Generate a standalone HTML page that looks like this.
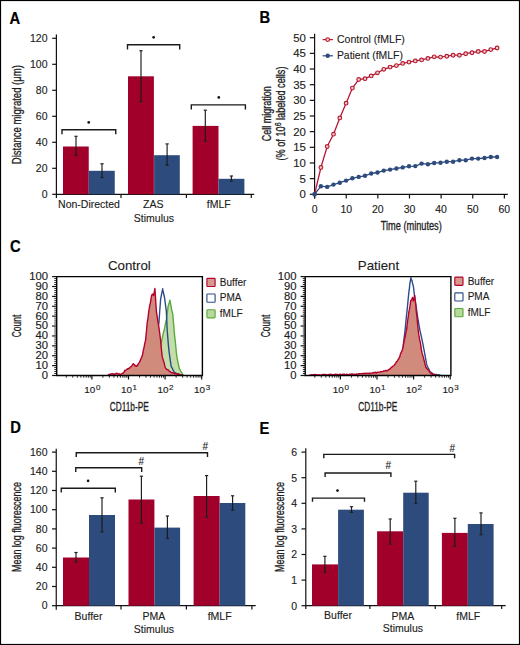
<!DOCTYPE html>
<html><head><meta charset="utf-8"><style>
html,body{margin:0;padding:0;background:#fff;}
svg{display:block;font-family:"Liberation Sans", sans-serif;}
text{stroke:#222;stroke-width:0.12px;}
</style></head><body>
<svg width="520" height="645" viewBox="0 0 520 645">
<rect x="0.5" y="0.5" width="519" height="644" fill="none" stroke="#000" stroke-width="1.2"/>
<text transform="translate(9.6,23.8) scale(0.9,1)" font-size="16.4" font-weight="bold" fill="#000" style="stroke:#000;stroke-width:0.2px">A</text>
<line x1="56.4" y1="34.5" x2="56.4" y2="198" stroke="#111" stroke-width="1.2"/>
<line x1="52.2" y1="194.3" x2="56.4" y2="194.3" stroke="#111" stroke-width="1.2"/>
<text x="47.5" y="198.0" font-size="10.5" text-anchor="end" font-weight="normal" fill="#1a1a1a" >0</text>
<line x1="52.2" y1="168.3" x2="56.4" y2="168.3" stroke="#111" stroke-width="1.2"/>
<text x="47.5" y="172.0" font-size="10.5" text-anchor="end" font-weight="normal" fill="#1a1a1a" >20</text>
<line x1="52.2" y1="142.3" x2="56.4" y2="142.3" stroke="#111" stroke-width="1.2"/>
<text x="47.5" y="146.0" font-size="10.5" text-anchor="end" font-weight="normal" fill="#1a1a1a" >40</text>
<line x1="52.2" y1="116.30000000000001" x2="56.4" y2="116.30000000000001" stroke="#111" stroke-width="1.2"/>
<text x="47.5" y="120.00000000000001" font-size="10.5" text-anchor="end" font-weight="normal" fill="#1a1a1a" >60</text>
<line x1="52.2" y1="90.30000000000001" x2="56.4" y2="90.30000000000001" stroke="#111" stroke-width="1.2"/>
<text x="47.5" y="94.00000000000001" font-size="10.5" text-anchor="end" font-weight="normal" fill="#1a1a1a" >80</text>
<line x1="52.2" y1="64.30000000000001" x2="56.4" y2="64.30000000000001" stroke="#111" stroke-width="1.2"/>
<text x="47.5" y="68.00000000000001" font-size="10.5" text-anchor="end" font-weight="normal" fill="#1a1a1a" >100</text>
<line x1="52.2" y1="38.30000000000001" x2="56.4" y2="38.30000000000001" stroke="#111" stroke-width="1.2"/>
<text x="47.5" y="42.000000000000014" font-size="10.5" text-anchor="end" font-weight="normal" fill="#1a1a1a" >120</text>
<line x1="56.4" y1="194.3" x2="254.2" y2="194.3" stroke="#111" stroke-width="1.2"/>
<line x1="121" y1="194.3" x2="121" y2="198" stroke="#111" stroke-width="1.2"/>
<line x1="186.4" y1="194.3" x2="186.4" y2="198" stroke="#111" stroke-width="1.2"/>
<line x1="251.3" y1="194.3" x2="251.3" y2="198" stroke="#111" stroke-width="1.2"/>
<rect x="63" y="146.5" width="25.75" height="47.80" fill="#a1002b"/>
<rect x="88.75" y="170.8" width="26.00" height="23.50" fill="#2d4b7c"/>
<rect x="128" y="76.3" width="25.90" height="118.00" fill="#a1002b"/>
<rect x="154.1" y="155.2" width="25.70" height="39.10" fill="#2d4b7c"/>
<rect x="192.6" y="125.9" width="25.90" height="68.40" fill="#a1002b"/>
<rect x="218.5" y="178.8" width="25.90" height="15.50" fill="#2d4b7c"/>
<line x1="76" y1="136.3" x2="76" y2="155.5" stroke="#1a1a1a" stroke-width="1.15"/>
<line x1="74.4" y1="136.3" x2="77.6" y2="136.3" stroke="#222" stroke-width="1.2"/>
<line x1="74.4" y1="155.5" x2="77.6" y2="155.5" stroke="#222" stroke-width="1.2"/>
<line x1="102" y1="163.8" x2="102" y2="177.5" stroke="#1a1a1a" stroke-width="1.15"/>
<line x1="100.4" y1="163.8" x2="103.6" y2="163.8" stroke="#222" stroke-width="1.2"/>
<line x1="100.4" y1="177.5" x2="103.6" y2="177.5" stroke="#222" stroke-width="1.2"/>
<line x1="141" y1="50.7" x2="141" y2="101.6" stroke="#1a1a1a" stroke-width="1.15"/>
<line x1="139.4" y1="50.7" x2="142.6" y2="50.7" stroke="#222" stroke-width="1.2"/>
<line x1="139.4" y1="101.6" x2="142.6" y2="101.6" stroke="#222" stroke-width="1.2"/>
<line x1="167.1" y1="143.9" x2="167.1" y2="165.3" stroke="#1a1a1a" stroke-width="1.15"/>
<line x1="165.5" y1="143.9" x2="168.7" y2="143.9" stroke="#222" stroke-width="1.2"/>
<line x1="165.5" y1="165.3" x2="168.7" y2="165.3" stroke="#222" stroke-width="1.2"/>
<line x1="205.3" y1="110.2" x2="205.3" y2="141" stroke="#1a1a1a" stroke-width="1.15"/>
<line x1="203.70000000000002" y1="110.2" x2="206.9" y2="110.2" stroke="#222" stroke-width="1.2"/>
<line x1="203.70000000000002" y1="141" x2="206.9" y2="141" stroke="#222" stroke-width="1.2"/>
<line x1="231.4" y1="176" x2="231.4" y2="181.1" stroke="#1a1a1a" stroke-width="1.15"/>
<line x1="229.8" y1="176" x2="233.0" y2="176" stroke="#222" stroke-width="1.2"/>
<line x1="229.8" y1="181.1" x2="233.0" y2="181.1" stroke="#222" stroke-width="1.2"/>
<path d="M62,134.25 V129.75 H115.75 V134.25" fill="none" stroke="#1a1a1a" stroke-width="1.4"/>
<circle cx="88.75" cy="122.4" r="1.35" fill="#111"/>
<path d="M127.5,49.4 V44.8 H179.7 V49.4" fill="none" stroke="#1a1a1a" stroke-width="1.4"/>
<circle cx="153.65" cy="37.3" r="1.35" fill="#111"/>
<path d="M191.3,109.5 V104.9 H245.4 V109.5" fill="none" stroke="#1a1a1a" stroke-width="1.4"/>
<circle cx="218.8" cy="97.4" r="1.35" fill="#111"/>
<text x="89" y="208" font-size="10.5" text-anchor="middle" font-weight="normal" fill="#1a1a1a" >Non-Directed</text>
<text x="153.3" y="208" font-size="10.5" text-anchor="middle" font-weight="normal" fill="#1a1a1a" >ZAS</text>
<text x="218.7" y="208" font-size="10.5" text-anchor="middle" font-weight="normal" fill="#1a1a1a" >fMLF</text>
<text x="154" y="221.5" font-size="10.5" text-anchor="middle" font-weight="normal" fill="#1a1a1a" >Stimulus</text>
<text transform="translate(21,114.7) rotate(-90)" x="0" y="0" font-size="12" text-anchor="middle" textLength="99" lengthAdjust="spacingAndGlyphs" fill="#1a1a1a" style="stroke-width:0.3px">Distance migrated (μm)</text>
<text transform="translate(259.5,22.8) scale(0.9,1)" font-size="16.4" font-weight="bold" fill="#000" style="stroke:#000;stroke-width:0.2px">B</text>
<line x1="314.6" y1="33.7" x2="314.6" y2="198.5" stroke="#111" stroke-width="1.2"/>
<line x1="309.8" y1="194.3" x2="314.6" y2="194.3" stroke="#111" stroke-width="1.2"/>
<text x="305.9" y="198.20" font-size="10.5" text-anchor="end" textLength="6.35" lengthAdjust="spacingAndGlyphs" fill="#1a1a1a">0</text>
<line x1="309.8" y1="178.64000000000001" x2="314.6" y2="178.64000000000001" stroke="#111" stroke-width="1.2"/>
<text x="305.9" y="182.54" font-size="10.5" text-anchor="end" textLength="6.35" lengthAdjust="spacingAndGlyphs" fill="#1a1a1a">5</text>
<line x1="309.8" y1="162.98000000000002" x2="314.6" y2="162.98000000000002" stroke="#111" stroke-width="1.2"/>
<text x="305.9" y="166.88" font-size="10.5" text-anchor="end" textLength="12.70" lengthAdjust="spacingAndGlyphs" fill="#1a1a1a">10</text>
<line x1="309.8" y1="147.32" x2="314.6" y2="147.32" stroke="#111" stroke-width="1.2"/>
<text x="305.9" y="151.22" font-size="10.5" text-anchor="end" textLength="12.70" lengthAdjust="spacingAndGlyphs" fill="#1a1a1a">15</text>
<line x1="309.8" y1="131.66000000000003" x2="314.6" y2="131.66000000000003" stroke="#111" stroke-width="1.2"/>
<text x="305.9" y="135.56" font-size="10.5" text-anchor="end" textLength="12.70" lengthAdjust="spacingAndGlyphs" fill="#1a1a1a">20</text>
<line x1="309.8" y1="116.00000000000001" x2="314.6" y2="116.00000000000001" stroke="#111" stroke-width="1.2"/>
<text x="305.9" y="119.90" font-size="10.5" text-anchor="end" textLength="12.70" lengthAdjust="spacingAndGlyphs" fill="#1a1a1a">25</text>
<line x1="309.8" y1="100.34" x2="314.6" y2="100.34" stroke="#111" stroke-width="1.2"/>
<text x="305.9" y="104.24" font-size="10.5" text-anchor="end" textLength="12.70" lengthAdjust="spacingAndGlyphs" fill="#1a1a1a">30</text>
<line x1="309.8" y1="84.68" x2="314.6" y2="84.68" stroke="#111" stroke-width="1.2"/>
<text x="305.9" y="88.58" font-size="10.5" text-anchor="end" textLength="12.70" lengthAdjust="spacingAndGlyphs" fill="#1a1a1a">35</text>
<line x1="309.8" y1="69.02000000000001" x2="314.6" y2="69.02000000000001" stroke="#111" stroke-width="1.2"/>
<text x="305.9" y="72.92" font-size="10.5" text-anchor="end" textLength="12.70" lengthAdjust="spacingAndGlyphs" fill="#1a1a1a">40</text>
<line x1="309.8" y1="53.360000000000014" x2="314.6" y2="53.360000000000014" stroke="#111" stroke-width="1.2"/>
<text x="305.9" y="57.26" font-size="10.5" text-anchor="end" textLength="12.70" lengthAdjust="spacingAndGlyphs" fill="#1a1a1a">45</text>
<line x1="309.8" y1="37.70000000000002" x2="314.6" y2="37.70000000000002" stroke="#111" stroke-width="1.2"/>
<text x="305.9" y="41.60" font-size="10.5" text-anchor="end" textLength="12.70" lengthAdjust="spacingAndGlyphs" fill="#1a1a1a">50</text>
<line x1="314.6" y1="194.3" x2="507.8" y2="194.3" stroke="#111" stroke-width="1.2"/>
<line x1="314.6" y1="194.3" x2="314.6" y2="198.5" stroke="#111" stroke-width="1.2"/>
<text x="314.6" y="212.5" font-size="10.5" text-anchor="middle" font-weight="normal" fill="#1a1a1a" >0</text>
<line x1="346.23" y1="194.3" x2="346.23" y2="198.5" stroke="#111" stroke-width="1.2"/>
<text x="346.23" y="212.5" font-size="10.5" text-anchor="middle" font-weight="normal" fill="#1a1a1a" >10</text>
<line x1="377.86" y1="194.3" x2="377.86" y2="198.5" stroke="#111" stroke-width="1.2"/>
<text x="377.86" y="212.5" font-size="10.5" text-anchor="middle" font-weight="normal" fill="#1a1a1a" >20</text>
<line x1="409.49" y1="194.3" x2="409.49" y2="198.5" stroke="#111" stroke-width="1.2"/>
<text x="409.49" y="212.5" font-size="10.5" text-anchor="middle" font-weight="normal" fill="#1a1a1a" >30</text>
<line x1="441.12" y1="194.3" x2="441.12" y2="198.5" stroke="#111" stroke-width="1.2"/>
<text x="441.12" y="212.5" font-size="10.5" text-anchor="middle" font-weight="normal" fill="#1a1a1a" >40</text>
<line x1="472.75" y1="194.3" x2="472.75" y2="198.5" stroke="#111" stroke-width="1.2"/>
<text x="472.75" y="212.5" font-size="10.5" text-anchor="middle" font-weight="normal" fill="#1a1a1a" >50</text>
<line x1="504.38" y1="194.3" x2="504.38" y2="198.5" stroke="#111" stroke-width="1.2"/>
<text x="504.38" y="212.5" font-size="10.5" text-anchor="middle" font-weight="normal" fill="#1a1a1a" >60</text>
<text x="411.3" y="229.6" font-size="12" text-anchor="middle" textLength="61" lengthAdjust="spacingAndGlyphs" fill="#1a1a1a" style="stroke-width:0.3px">Time (minutes)</text>
<text transform="translate(270.6,113.7) rotate(-90)" x="0" y="0" font-size="12" text-anchor="middle" textLength="55" lengthAdjust="spacingAndGlyphs" fill="#1a1a1a" style="stroke-width:0.3px">Cell migration</text>
<text transform="translate(285,113.5) rotate(-90)" font-size="12" text-anchor="middle" textLength="94" lengthAdjust="spacingAndGlyphs" fill="#1a1a1a" style="stroke-width:0.3px">(% of 10<tspan dy="-4.5" font-size="9">6</tspan><tspan dy="4.5"> labeled cells)</tspan></text>
<polyline points="314.6,194.3 320.9,186.2 327.2,186.9 333.5,184.6 339.8,182.7 346.1,180.6 352.4,178.3 358.7,176.9 365.0,175.8 371.2,173.5 377.5,172.5 383.8,170.6 390.1,169.6 396.4,168.5 402.7,167.4 409.0,166.3 415.3,166.1 421.6,163.6 427.9,164.2 434.2,163.0 440.5,162.7 446.8,161.7 453.1,161.7 459.4,160.2 465.7,160.2 472.0,158.6 478.2,158.6 484.5,158.0 490.8,157.0 497.1,157.0" fill="none" stroke="#2d4b7c" stroke-width="1.3"/>
<circle cx="314.6" cy="194.3" r="2.2" fill="#2d4b7c"/>
<circle cx="320.9" cy="186.2" r="2.2" fill="#2d4b7c"/>
<circle cx="327.2" cy="186.9" r="2.2" fill="#2d4b7c"/>
<circle cx="333.5" cy="184.6" r="2.2" fill="#2d4b7c"/>
<circle cx="339.8" cy="182.7" r="2.2" fill="#2d4b7c"/>
<circle cx="346.1" cy="180.6" r="2.2" fill="#2d4b7c"/>
<circle cx="352.4" cy="178.3" r="2.2" fill="#2d4b7c"/>
<circle cx="358.7" cy="176.9" r="2.2" fill="#2d4b7c"/>
<circle cx="365.0" cy="175.8" r="2.2" fill="#2d4b7c"/>
<circle cx="371.2" cy="173.5" r="2.2" fill="#2d4b7c"/>
<circle cx="377.5" cy="172.5" r="2.2" fill="#2d4b7c"/>
<circle cx="383.8" cy="170.6" r="2.2" fill="#2d4b7c"/>
<circle cx="390.1" cy="169.6" r="2.2" fill="#2d4b7c"/>
<circle cx="396.4" cy="168.5" r="2.2" fill="#2d4b7c"/>
<circle cx="402.7" cy="167.4" r="2.2" fill="#2d4b7c"/>
<circle cx="409.0" cy="166.3" r="2.2" fill="#2d4b7c"/>
<circle cx="415.3" cy="166.1" r="2.2" fill="#2d4b7c"/>
<circle cx="421.6" cy="163.6" r="2.2" fill="#2d4b7c"/>
<circle cx="427.9" cy="164.2" r="2.2" fill="#2d4b7c"/>
<circle cx="434.2" cy="163.0" r="2.2" fill="#2d4b7c"/>
<circle cx="440.5" cy="162.7" r="2.2" fill="#2d4b7c"/>
<circle cx="446.8" cy="161.7" r="2.2" fill="#2d4b7c"/>
<circle cx="453.1" cy="161.7" r="2.2" fill="#2d4b7c"/>
<circle cx="459.4" cy="160.2" r="2.2" fill="#2d4b7c"/>
<circle cx="465.7" cy="160.2" r="2.2" fill="#2d4b7c"/>
<circle cx="472.0" cy="158.6" r="2.2" fill="#2d4b7c"/>
<circle cx="478.2" cy="158.6" r="2.2" fill="#2d4b7c"/>
<circle cx="484.5" cy="158.0" r="2.2" fill="#2d4b7c"/>
<circle cx="490.8" cy="157.0" r="2.2" fill="#2d4b7c"/>
<circle cx="497.1" cy="157.0" r="2.2" fill="#2d4b7c"/>
<polyline points="314.6,194.3 320.9,167.5 327.2,146.5 333.5,134.2 339.8,117.9 346.1,103.2 352.4,88.1 358.7,79.5 365.0,78.7 371.2,75.9 377.5,72.8 383.8,69.3 390.1,67.1 396.4,65.6 402.7,63.4 409.0,62.1 415.3,60.9 421.6,59.9 427.9,58.4 434.2,56.8 440.5,57.1 446.8,56.2 453.1,55.2 459.4,55.2 465.7,53.7 472.0,52.7 478.2,51.5 484.5,51.5 490.8,49.6 497.1,48.0" fill="none" stroke="#b8173b" stroke-width="1.3"/>
<circle cx="320.9" cy="167.5" r="1.85" fill="#ead2b0" stroke="#b8173b" stroke-width="1.15"/>
<circle cx="327.2" cy="146.5" r="1.85" fill="#ead2b0" stroke="#b8173b" stroke-width="1.15"/>
<circle cx="333.5" cy="134.2" r="1.85" fill="#ead2b0" stroke="#b8173b" stroke-width="1.15"/>
<circle cx="339.8" cy="117.9" r="1.85" fill="#ead2b0" stroke="#b8173b" stroke-width="1.15"/>
<circle cx="346.1" cy="103.2" r="1.85" fill="#ead2b0" stroke="#b8173b" stroke-width="1.15"/>
<circle cx="352.4" cy="88.1" r="1.85" fill="#ead2b0" stroke="#b8173b" stroke-width="1.15"/>
<circle cx="358.7" cy="79.5" r="1.85" fill="#ead2b0" stroke="#b8173b" stroke-width="1.15"/>
<circle cx="365.0" cy="78.7" r="1.85" fill="#ead2b0" stroke="#b8173b" stroke-width="1.15"/>
<circle cx="371.2" cy="75.9" r="1.85" fill="#ead2b0" stroke="#b8173b" stroke-width="1.15"/>
<circle cx="377.5" cy="72.8" r="1.85" fill="#ead2b0" stroke="#b8173b" stroke-width="1.15"/>
<circle cx="383.8" cy="69.3" r="1.85" fill="#ead2b0" stroke="#b8173b" stroke-width="1.15"/>
<circle cx="390.1" cy="67.1" r="1.85" fill="#ead2b0" stroke="#b8173b" stroke-width="1.15"/>
<circle cx="396.4" cy="65.6" r="1.85" fill="#ead2b0" stroke="#b8173b" stroke-width="1.15"/>
<circle cx="402.7" cy="63.4" r="1.85" fill="#ead2b0" stroke="#b8173b" stroke-width="1.15"/>
<circle cx="409.0" cy="62.1" r="1.85" fill="#ead2b0" stroke="#b8173b" stroke-width="1.15"/>
<circle cx="415.3" cy="60.9" r="1.85" fill="#ead2b0" stroke="#b8173b" stroke-width="1.15"/>
<circle cx="421.6" cy="59.9" r="1.85" fill="#ead2b0" stroke="#b8173b" stroke-width="1.15"/>
<circle cx="427.9" cy="58.4" r="1.85" fill="#ead2b0" stroke="#b8173b" stroke-width="1.15"/>
<circle cx="434.2" cy="56.8" r="1.85" fill="#ead2b0" stroke="#b8173b" stroke-width="1.15"/>
<circle cx="440.5" cy="57.1" r="1.85" fill="#ead2b0" stroke="#b8173b" stroke-width="1.15"/>
<circle cx="446.8" cy="56.2" r="1.85" fill="#ead2b0" stroke="#b8173b" stroke-width="1.15"/>
<circle cx="453.1" cy="55.2" r="1.85" fill="#ead2b0" stroke="#b8173b" stroke-width="1.15"/>
<circle cx="459.4" cy="55.2" r="1.85" fill="#ead2b0" stroke="#b8173b" stroke-width="1.15"/>
<circle cx="465.7" cy="53.7" r="1.85" fill="#ead2b0" stroke="#b8173b" stroke-width="1.15"/>
<circle cx="472.0" cy="52.7" r="1.85" fill="#ead2b0" stroke="#b8173b" stroke-width="1.15"/>
<circle cx="478.2" cy="51.5" r="1.85" fill="#ead2b0" stroke="#b8173b" stroke-width="1.15"/>
<circle cx="484.5" cy="51.5" r="1.85" fill="#ead2b0" stroke="#b8173b" stroke-width="1.15"/>
<circle cx="490.8" cy="49.6" r="1.85" fill="#ead2b0" stroke="#b8173b" stroke-width="1.15"/>
<circle cx="497.1" cy="48.0" r="1.85" fill="#ead2b0" stroke="#b8173b" stroke-width="1.15"/>
<circle cx="314.6" cy="194.3" r="2.2" fill="#2d4b7c"/>
<line x1="322.6" y1="39.6" x2="333" y2="39.6" stroke="#b8173b" stroke-width="1.2"/>
<circle cx="327.7" cy="39.6" r="1.85" fill="#ead2b0" stroke="#b8173b" stroke-width="1.15"/>
<line x1="322.6" y1="55.8" x2="333" y2="55.8" stroke="#2d4b7c" stroke-width="1.2"/>
<circle cx="327.7" cy="55.8" r="2.2" fill="#2d4b7c"/>
<text x="336.9" y="42.6" font-size="11.4" text-anchor="start" textLength="68" lengthAdjust="spacingAndGlyphs" fill="#1a1a1a">Control (fMLF)</text>
<text x="336.9" y="58.7" font-size="11.4" text-anchor="start" textLength="66" lengthAdjust="spacingAndGlyphs" fill="#1a1a1a">Patient (fMLF)</text>
<text transform="translate(10,251.5) scale(0.9,1)" font-size="16.4" font-weight="bold" fill="#000" style="stroke:#000;stroke-width:0.2px">C</text>
<path d="M150.0,375.2 L150.0,374.8 L150.0,375.0 L150.8,374.0 L151.6,372.8 L152.4,372.5 L153.2,371.3 L154.0,370.1 L154.8,369.2 L155.6,368.3 L156.0,368.0 L156.4,366.3 L157.2,362.8 L158.0,360.4 L158.8,357.4 L159.6,353.6 L160.0,352.0 L160.4,349.5 L161.2,344.0 L162.0,339.1 L162.2,338.5 L162.8,335.6 L163.6,332.0 L164.4,329.5 L165.2,324.9 L166.0,321.2 L166.3,320.7 L166.8,317.3 L167.6,310.1 L167.9,307.6 L168.4,305.1 L169.2,302.7 L169.8,300.3 L170.0,300.5 L170.8,304.9 L171.6,309.3 L172.4,312.8 L172.8,314.1 L173.2,319.3 L174.0,328.4 L174.4,333.7 L174.8,337.3 L175.6,344.5 L176.4,353.0 L176.8,356.4 L177.2,358.4 L178.0,362.6 L178.8,366.0 L179.3,368.6 L179.6,368.9 L180.4,370.6 L181.2,372.0 L182.0,373.1 L182.8,374.4 L183.3,375.0 L183.3,375.2 Z" fill="#c3deaa" stroke="#5aaa3c" stroke-width="1.4" stroke-linejoin="round"/>
<path d="M150.0,375.2 L150.0,374.9 L150.0,375.0 L150.8,370.9 L151.6,366.9 L152.4,363.4 L153.0,360.0 L153.2,358.9 L154.0,351.1 L154.8,344.5 L155.6,337.9 L156.0,335.0 L156.4,333.0 L157.2,330.2 L158.0,327.1 L158.8,323.4 L158.9,323.4 L159.6,312.8 L160.4,302.2 L160.6,299.5 L161.2,296.2 L162.0,292.4 L162.7,288.7 L162.8,289.9 L163.6,293.4 L164.4,297.0 L164.6,297.9 L165.2,302.7 L166.0,308.9 L166.3,310.9 L166.8,321.4 L167.1,328.8 L167.6,335.5 L168.4,345.1 L168.7,348.3 L169.2,352.6 L170.0,358.4 L170.8,363.9 L171.1,366.2 L171.6,367.1 L172.4,368.4 L173.2,370.4 L174.0,371.6 L174.4,372.7 L174.8,372.6 L175.6,373.0 L176.4,373.3 L177.2,373.8 L178.0,373.9 L178.8,374.2 L179.6,374.6 L180.0,375.0 L180.0,375.2 Z" fill="none" stroke="#2d4b8c" stroke-width="1.4" stroke-linejoin="round"/>
<path d="M108.0,375.2 L108.0,374.9 L108.0,375.0 L108.8,374.5 L109.6,374.6 L110.4,374.0 L111.2,374.1 L112.0,373.7 L112.0,373.8 L112.8,373.7 L113.6,374.4 L114.0,374.5 L114.4,374.0 L115.2,374.0 L116.0,373.5 L116.8,373.2 L117.0,373.5 L117.6,373.6 L118.4,374.1 L119.2,373.8 L120.0,374.1 L120.0,374.3 L120.8,374.1 L121.6,374.0 L122.4,373.4 L123.2,373.0 L123.3,373.0 L124.0,372.3 L124.8,370.3 L124.8,370.7 L125.6,370.6 L126.4,369.6 L127.2,369.1 L128.0,368.6 L128.0,369.0 L128.8,368.2 L129.6,368.2 L130.4,366.9 L131.0,366.8 L131.2,366.6 L132.0,365.6 L132.8,364.2 L133.3,363.7 L133.6,364.2 L134.4,364.7 L135.0,366.0 L135.2,365.5 L136.0,365.7 L136.8,366.2 L137.2,366.0 L137.6,365.2 L138.4,363.7 L139.2,362.6 L140.0,361.1 L140.3,360.6 L140.8,359.0 L141.6,357.6 L142.4,355.3 L142.6,354.4 L143.2,350.9 L144.0,347.6 L144.5,345.0 L144.8,343.5 L145.6,340.2 L145.7,338.9 L146.4,331.9 L147.2,322.5 L147.3,321.9 L148.0,318.1 L148.8,311.0 L149.6,306.4 L149.6,306.2 L150.4,302.8 L151.2,297.6 L151.9,294.7 L152.0,294.7 L152.8,294.2 L153.5,295.5 L153.6,295.3 L154.4,291.5 L154.9,288.5 L155.2,293.1 L156.0,305.8 L156.5,312.5 L156.8,314.0 L157.6,319.6 L158.4,324.3 L158.9,327.2 L159.2,329.7 L160.0,335.5 L160.6,340.2 L160.8,342.9 L161.6,351.2 L162.2,356.4 L162.4,357.1 L163.2,360.2 L164.0,362.2 L164.8,365.9 L165.4,367.8 L165.6,368.1 L166.4,369.2 L167.2,369.7 L168.0,369.8 L168.8,370.6 L169.6,371.6 L170.4,371.7 L171.1,372.7 L171.2,372.7 L172.0,372.6 L172.8,372.8 L173.6,372.9 L174.4,373.6 L175.2,373.3 L176.0,373.6 L176.8,373.9 L177.6,374.4 L178.0,374.2 L178.4,374.0 L179.2,374.4 L180.0,374.6 L180.8,374.9 L181.6,375.0 L182.4,375.2 L183.0,375.0 L183.0,375.2 Z" fill="#d08b7d" stroke="none" stroke-width="1.4" stroke-linejoin="round"/>
<path d="M108.0,374.9 L108.0,375.0 L108.8,374.5 L109.6,374.6 L110.4,374.0 L111.2,374.1 L112.0,373.7 L112.0,373.8 L112.8,373.7 L113.6,374.4 L114.0,374.5 L114.4,374.0 L115.2,374.0 L116.0,373.5 L116.8,373.2 L117.0,373.5 L117.6,373.6 L118.4,374.1 L119.2,373.8 L120.0,374.1 L120.0,374.3 L120.8,374.1 L121.6,374.0 L122.4,373.4 L123.2,373.0 L123.3,373.0 L124.0,372.3 L124.8,370.3 L124.8,370.7 L125.6,370.6 L126.4,369.6 L127.2,369.1 L128.0,368.6 L128.0,369.0 L128.8,368.2 L129.6,368.2 L130.4,366.9 L131.0,366.8 L131.2,366.6 L132.0,365.6 L132.8,364.2 L133.3,363.7 L133.6,364.2 L134.4,364.7 L135.0,366.0 L135.2,365.5 L136.0,365.7 L136.8,366.2 L137.2,366.0 L137.6,365.2 L138.4,363.7 L139.2,362.6 L140.0,361.1 L140.3,360.6 L140.8,359.0 L141.6,357.6 L142.4,355.3 L142.6,354.4 L143.2,350.9 L144.0,347.6 L144.5,345.0 L144.8,343.5 L145.6,340.2 L145.7,338.9 L146.4,331.9 L147.2,322.5 L147.3,321.9 L148.0,318.1 L148.8,311.0 L149.6,306.4 L149.6,306.2 L150.4,302.8 L151.2,297.6 L151.9,294.7 L152.0,294.7 L152.8,294.2 L153.5,295.5 L153.6,295.3 L154.4,291.5 L154.9,288.5 L155.2,293.1 L156.0,305.8 L156.5,312.5 L156.8,314.0 L157.6,319.6 L158.4,324.3 L158.9,327.2 L159.2,329.7 L160.0,335.5 L160.6,340.2 L160.8,342.9 L161.6,351.2 L162.2,356.4 L162.4,357.1 L163.2,360.2 L164.0,362.2 L164.8,365.9 L165.4,367.8 L165.6,368.1 L166.4,369.2 L167.2,369.7 L168.0,369.8 L168.8,370.6 L169.6,371.6 L170.4,371.7 L171.1,372.7 L171.2,372.7 L172.0,372.6 L172.8,372.8 L173.6,372.9 L174.4,373.6 L175.2,373.3 L176.0,373.6 L176.8,373.9 L177.6,374.4 L178.0,374.2 L178.4,374.0 L179.2,374.4 L180.0,374.6 L180.8,374.9 L181.6,375.0 L182.4,375.2 L183.0,375.0" fill="none" stroke="#b5002e" stroke-width="1.4" stroke-linejoin="round"/>
<path d="M56.7,276.6 H202.4 V375.5 H56.7 Z" fill="none" stroke="#000" stroke-width="1.4"/>
<line x1="52.1" y1="375.5" x2="56.7" y2="375.5" stroke="#111" stroke-width="1.2"/>
<text x="48" y="378.90" font-size="10" text-anchor="end" textLength="6.25" lengthAdjust="spacingAndGlyphs" fill="#1a1a1a" style="stroke-width:0.15px">0</text>
<line x1="54.3" y1="373.522" x2="56.7" y2="373.522" stroke="#111" stroke-width="0.9"/>
<line x1="54.3" y1="371.544" x2="56.7" y2="371.544" stroke="#111" stroke-width="0.9"/>
<line x1="54.3" y1="369.566" x2="56.7" y2="369.566" stroke="#111" stroke-width="0.9"/>
<line x1="54.3" y1="367.588" x2="56.7" y2="367.588" stroke="#111" stroke-width="0.9"/>
<line x1="52.1" y1="365.61" x2="56.7" y2="365.61" stroke="#111" stroke-width="1.2"/>
<text x="48" y="369.01" font-size="10" text-anchor="end" textLength="12.50" lengthAdjust="spacingAndGlyphs" fill="#1a1a1a" style="stroke-width:0.15px">10</text>
<line x1="54.3" y1="363.632" x2="56.7" y2="363.632" stroke="#111" stroke-width="0.9"/>
<line x1="54.3" y1="361.654" x2="56.7" y2="361.654" stroke="#111" stroke-width="0.9"/>
<line x1="54.3" y1="359.676" x2="56.7" y2="359.676" stroke="#111" stroke-width="0.9"/>
<line x1="54.3" y1="357.698" x2="56.7" y2="357.698" stroke="#111" stroke-width="0.9"/>
<line x1="52.1" y1="355.72" x2="56.7" y2="355.72" stroke="#111" stroke-width="1.2"/>
<text x="48" y="359.12" font-size="10" text-anchor="end" textLength="12.50" lengthAdjust="spacingAndGlyphs" fill="#1a1a1a" style="stroke-width:0.15px">20</text>
<line x1="54.3" y1="353.742" x2="56.7" y2="353.742" stroke="#111" stroke-width="0.9"/>
<line x1="54.3" y1="351.764" x2="56.7" y2="351.764" stroke="#111" stroke-width="0.9"/>
<line x1="54.3" y1="349.786" x2="56.7" y2="349.786" stroke="#111" stroke-width="0.9"/>
<line x1="54.3" y1="347.808" x2="56.7" y2="347.808" stroke="#111" stroke-width="0.9"/>
<line x1="52.1" y1="345.83" x2="56.7" y2="345.83" stroke="#111" stroke-width="1.2"/>
<text x="48" y="349.23" font-size="10" text-anchor="end" textLength="12.50" lengthAdjust="spacingAndGlyphs" fill="#1a1a1a" style="stroke-width:0.15px">30</text>
<line x1="54.3" y1="343.852" x2="56.7" y2="343.852" stroke="#111" stroke-width="0.9"/>
<line x1="54.3" y1="341.874" x2="56.7" y2="341.874" stroke="#111" stroke-width="0.9"/>
<line x1="54.3" y1="339.896" x2="56.7" y2="339.896" stroke="#111" stroke-width="0.9"/>
<line x1="54.3" y1="337.918" x2="56.7" y2="337.918" stroke="#111" stroke-width="0.9"/>
<line x1="52.1" y1="335.94" x2="56.7" y2="335.94" stroke="#111" stroke-width="1.2"/>
<text x="48" y="339.34" font-size="10" text-anchor="end" textLength="12.50" lengthAdjust="spacingAndGlyphs" fill="#1a1a1a" style="stroke-width:0.15px">40</text>
<line x1="54.3" y1="333.962" x2="56.7" y2="333.962" stroke="#111" stroke-width="0.9"/>
<line x1="54.3" y1="331.984" x2="56.7" y2="331.984" stroke="#111" stroke-width="0.9"/>
<line x1="54.3" y1="330.006" x2="56.7" y2="330.006" stroke="#111" stroke-width="0.9"/>
<line x1="54.3" y1="328.028" x2="56.7" y2="328.028" stroke="#111" stroke-width="0.9"/>
<line x1="52.1" y1="326.05" x2="56.7" y2="326.05" stroke="#111" stroke-width="1.2"/>
<text x="48" y="329.45" font-size="10" text-anchor="end" textLength="12.50" lengthAdjust="spacingAndGlyphs" fill="#1a1a1a" style="stroke-width:0.15px">50</text>
<line x1="54.3" y1="324.072" x2="56.7" y2="324.072" stroke="#111" stroke-width="0.9"/>
<line x1="54.3" y1="322.094" x2="56.7" y2="322.094" stroke="#111" stroke-width="0.9"/>
<line x1="54.3" y1="320.116" x2="56.7" y2="320.116" stroke="#111" stroke-width="0.9"/>
<line x1="54.3" y1="318.138" x2="56.7" y2="318.138" stroke="#111" stroke-width="0.9"/>
<line x1="52.1" y1="316.16" x2="56.7" y2="316.16" stroke="#111" stroke-width="1.2"/>
<text x="48" y="319.56" font-size="10" text-anchor="end" textLength="12.50" lengthAdjust="spacingAndGlyphs" fill="#1a1a1a" style="stroke-width:0.15px">60</text>
<line x1="54.3" y1="314.182" x2="56.7" y2="314.182" stroke="#111" stroke-width="0.9"/>
<line x1="54.3" y1="312.204" x2="56.7" y2="312.204" stroke="#111" stroke-width="0.9"/>
<line x1="54.3" y1="310.226" x2="56.7" y2="310.226" stroke="#111" stroke-width="0.9"/>
<line x1="54.3" y1="308.248" x2="56.7" y2="308.248" stroke="#111" stroke-width="0.9"/>
<line x1="52.1" y1="306.27" x2="56.7" y2="306.27" stroke="#111" stroke-width="1.2"/>
<text x="48" y="309.67" font-size="10" text-anchor="end" textLength="12.50" lengthAdjust="spacingAndGlyphs" fill="#1a1a1a" style="stroke-width:0.15px">70</text>
<line x1="54.3" y1="304.29200000000003" x2="56.7" y2="304.29200000000003" stroke="#111" stroke-width="0.9"/>
<line x1="54.3" y1="302.314" x2="56.7" y2="302.314" stroke="#111" stroke-width="0.9"/>
<line x1="54.3" y1="300.336" x2="56.7" y2="300.336" stroke="#111" stroke-width="0.9"/>
<line x1="54.3" y1="298.358" x2="56.7" y2="298.358" stroke="#111" stroke-width="0.9"/>
<line x1="52.1" y1="296.38" x2="56.7" y2="296.38" stroke="#111" stroke-width="1.2"/>
<text x="48" y="299.78" font-size="10" text-anchor="end" textLength="12.50" lengthAdjust="spacingAndGlyphs" fill="#1a1a1a" style="stroke-width:0.15px">80</text>
<line x1="54.3" y1="294.402" x2="56.7" y2="294.402" stroke="#111" stroke-width="0.9"/>
<line x1="54.3" y1="292.424" x2="56.7" y2="292.424" stroke="#111" stroke-width="0.9"/>
<line x1="54.3" y1="290.446" x2="56.7" y2="290.446" stroke="#111" stroke-width="0.9"/>
<line x1="54.3" y1="288.468" x2="56.7" y2="288.468" stroke="#111" stroke-width="0.9"/>
<line x1="52.1" y1="286.49" x2="56.7" y2="286.49" stroke="#111" stroke-width="1.2"/>
<text x="48" y="289.89" font-size="10" text-anchor="end" textLength="12.50" lengthAdjust="spacingAndGlyphs" fill="#1a1a1a" style="stroke-width:0.15px">90</text>
<line x1="54.3" y1="284.512" x2="56.7" y2="284.512" stroke="#111" stroke-width="0.9"/>
<line x1="54.3" y1="282.534" x2="56.7" y2="282.534" stroke="#111" stroke-width="0.9"/>
<line x1="54.3" y1="280.556" x2="56.7" y2="280.556" stroke="#111" stroke-width="0.9"/>
<line x1="54.3" y1="278.578" x2="56.7" y2="278.578" stroke="#111" stroke-width="0.9"/>
<line x1="52.1" y1="276.6" x2="56.7" y2="276.6" stroke="#111" stroke-width="1.2"/>
<text x="48" y="280.00" font-size="10" text-anchor="end" textLength="18.75" lengthAdjust="spacingAndGlyphs" fill="#1a1a1a" style="stroke-width:0.15px">100</text>
<line x1="66.31769784130172" y1="375.5" x2="66.31769784130172" y2="377.7" stroke="#111" stroke-width="0.9"/>
<line x1="72.76263792273966" y1="375.5" x2="72.76263792273966" y2="377.7" stroke="#111" stroke-width="0.9"/>
<line x1="77.33539568260343" y1="375.5" x2="77.33539568260343" y2="377.7" stroke="#111" stroke-width="0.9"/>
<line x1="80.8823021586983" y1="375.5" x2="80.8823021586983" y2="377.7" stroke="#111" stroke-width="0.9"/>
<line x1="83.78033576404135" y1="375.5" x2="83.78033576404135" y2="377.7" stroke="#111" stroke-width="0.9"/>
<line x1="86.2305882645218" y1="375.5" x2="86.2305882645218" y2="377.7" stroke="#111" stroke-width="0.9"/>
<line x1="88.35309352390513" y1="375.5" x2="88.35309352390513" y2="377.7" stroke="#111" stroke-width="0.9"/>
<line x1="90.2252758454793" y1="375.5" x2="90.2252758454793" y2="377.7" stroke="#111" stroke-width="0.9"/>
<line x1="91.9" y1="375.5" x2="91.9" y2="379.5" stroke="#111" stroke-width="1.2"/>
<line x1="102.91769784130172" y1="375.5" x2="102.91769784130172" y2="377.7" stroke="#111" stroke-width="0.9"/>
<line x1="109.36263792273965" y1="375.5" x2="109.36263792273965" y2="377.7" stroke="#111" stroke-width="0.9"/>
<line x1="113.93539568260343" y1="375.5" x2="113.93539568260343" y2="377.7" stroke="#111" stroke-width="0.9"/>
<line x1="117.4823021586983" y1="375.5" x2="117.4823021586983" y2="377.7" stroke="#111" stroke-width="0.9"/>
<line x1="120.38033576404136" y1="375.5" x2="120.38033576404136" y2="377.7" stroke="#111" stroke-width="0.9"/>
<line x1="122.83058826452181" y1="375.5" x2="122.83058826452181" y2="377.7" stroke="#111" stroke-width="0.9"/>
<line x1="124.95309352390514" y1="375.5" x2="124.95309352390514" y2="377.7" stroke="#111" stroke-width="0.9"/>
<line x1="126.8252758454793" y1="375.5" x2="126.8252758454793" y2="377.7" stroke="#111" stroke-width="0.9"/>
<line x1="128.5" y1="375.5" x2="128.5" y2="379.5" stroke="#111" stroke-width="1.2"/>
<line x1="139.51769784130173" y1="375.5" x2="139.51769784130173" y2="377.7" stroke="#111" stroke-width="0.9"/>
<line x1="145.96263792273965" y1="375.5" x2="145.96263792273965" y2="377.7" stroke="#111" stroke-width="0.9"/>
<line x1="150.53539568260342" y1="375.5" x2="150.53539568260342" y2="377.7" stroke="#111" stroke-width="0.9"/>
<line x1="154.0823021586983" y1="375.5" x2="154.0823021586983" y2="377.7" stroke="#111" stroke-width="0.9"/>
<line x1="156.98033576404134" y1="375.5" x2="156.98033576404134" y2="377.7" stroke="#111" stroke-width="0.9"/>
<line x1="159.43058826452182" y1="375.5" x2="159.43058826452182" y2="377.7" stroke="#111" stroke-width="0.9"/>
<line x1="161.55309352390515" y1="375.5" x2="161.55309352390515" y2="377.7" stroke="#111" stroke-width="0.9"/>
<line x1="163.4252758454793" y1="375.5" x2="163.4252758454793" y2="377.7" stroke="#111" stroke-width="0.9"/>
<line x1="165.10000000000002" y1="375.5" x2="165.10000000000002" y2="379.5" stroke="#111" stroke-width="1.2"/>
<line x1="176.11769784130175" y1="375.5" x2="176.11769784130175" y2="377.7" stroke="#111" stroke-width="0.9"/>
<line x1="182.56263792273967" y1="375.5" x2="182.56263792273967" y2="377.7" stroke="#111" stroke-width="0.9"/>
<line x1="187.13539568260344" y1="375.5" x2="187.13539568260344" y2="377.7" stroke="#111" stroke-width="0.9"/>
<line x1="190.68230215869832" y1="375.5" x2="190.68230215869832" y2="377.7" stroke="#111" stroke-width="0.9"/>
<line x1="193.58033576404137" y1="375.5" x2="193.58033576404137" y2="377.7" stroke="#111" stroke-width="0.9"/>
<line x1="196.03058826452184" y1="375.5" x2="196.03058826452184" y2="377.7" stroke="#111" stroke-width="0.9"/>
<line x1="198.15309352390517" y1="375.5" x2="198.15309352390517" y2="377.7" stroke="#111" stroke-width="0.9"/>
<line x1="200.0252758454793" y1="375.5" x2="200.0252758454793" y2="377.7" stroke="#111" stroke-width="0.9"/>
<line x1="201.70000000000002" y1="375.5" x2="201.70000000000002" y2="379.5" stroke="#111" stroke-width="1.2"/>
<text x="95.30" y="392.9" font-size="9.9" text-anchor="end" fill="#1a1a1a" style="stroke-width:0.15px">10</text>
<text x="95.90" y="390.2" font-size="8" text-anchor="start" fill="#1a1a1a" style="stroke-width:0.15px">0</text>
<text x="131.90" y="392.9" font-size="9.9" text-anchor="end" fill="#1a1a1a" style="stroke-width:0.15px">10</text>
<text x="132.50" y="390.2" font-size="8" text-anchor="start" fill="#1a1a1a" style="stroke-width:0.15px">1</text>
<text x="168.50" y="392.9" font-size="9.9" text-anchor="end" fill="#1a1a1a" style="stroke-width:0.15px">10</text>
<text x="169.10" y="390.2" font-size="8" text-anchor="start" fill="#1a1a1a" style="stroke-width:0.15px">2</text>
<text x="205.10" y="392.9" font-size="9.9" text-anchor="end" fill="#1a1a1a" style="stroke-width:0.15px">10</text>
<text x="205.70" y="390.2" font-size="8" text-anchor="start" fill="#1a1a1a" style="stroke-width:0.15px">3</text>
<text x="129.4" y="270" font-size="13.3" text-anchor="middle" font-weight="normal" fill="#1a1a1a" >Control</text>
<text x="129.3" y="411.3" font-size="12" text-anchor="middle" textLength="39" lengthAdjust="spacingAndGlyphs" fill="#1a1a1a" style="stroke-width:0.3px">CD11b-PE</text>
<text transform="translate(21.4,326) rotate(-90)" x="0" y="0" font-size="12" text-anchor="middle" textLength="22.5" lengthAdjust="spacingAndGlyphs" fill="#1a1a1a" style="stroke-width:0.3px">Count</text>
<rect x="206.9" y="278.3" width="8.2" height="8.2" fill="#d69a8c" stroke="#b5002e" stroke-width="1.15" rx="0.8"/>
<text x="219.8" y="285.7" font-size="10" text-anchor="start" font-weight="normal" fill="#1a1a1a" >Buffer</text>
<rect x="206.9" y="294.0" width="8.2" height="8.2" fill="#ffffff" stroke="#2d4b8c" stroke-width="1.15" rx="0.8"/>
<text x="219.8" y="301.4" font-size="10" text-anchor="start" font-weight="normal" fill="#1a1a1a" >PMA</text>
<rect x="206.9" y="309.7" width="8.2" height="8.2" fill="#b9d89e" stroke="#5aaa3c" stroke-width="1.15" rx="0.8"/>
<text x="219.8" y="317.09999999999997" font-size="10" text-anchor="start" font-weight="normal" fill="#1a1a1a" >fMLF</text>
<path d="M396.0,375.2 L396.0,374.7 L396.0,375.0 L396.8,373.0 L397.6,370.5 L398.4,368.1 L399.2,366.2 L400.0,364.5 L400.8,362.3 L401.5,360.0 L401.6,358.9 L402.4,351.9 L403.2,346.3 L404.0,339.1 L404.8,332.5 L405.5,326.3 L405.6,324.6 L406.4,316.5 L407.2,309.4 L407.7,304.0 L408.0,301.0 L408.8,292.8 L409.6,286.6 L409.8,284.0 L410.4,280.8 L410.9,277.7 L411.2,279.2 L412.0,280.7 L412.8,284.6 L413.1,285.0 L413.6,288.0 L414.4,295.1 L415.2,300.3 L415.7,304.0 L416.0,305.7 L416.8,311.3 L417.6,317.1 L418.4,321.3 L419.1,326.3 L419.2,326.2 L420.0,330.7 L420.8,334.1 L421.6,337.7 L422.4,341.6 L423.2,345.3 L423.4,347.0 L424.0,349.7 L424.8,354.2 L425.6,358.4 L426.4,363.2 L426.8,365.0 L427.2,365.7 L428.0,367.6 L428.8,369.1 L429.6,371.0 L430.0,372.0 L430.4,371.9 L431.2,372.6 L432.0,372.9 L432.8,373.9 L433.6,374.3 L434.0,374.5 L434.4,374.4 L435.2,374.6 L436.0,374.9 L436.8,374.5 L437.6,375.0 L438.4,374.8 L439.2,374.9 L440.0,375.0 L440.0,375.2 Z" fill="none" stroke="#2d4b8c" stroke-width="1.4" stroke-linejoin="round"/>
<path d="M310.0,375.2 L310.0,375.2 L310.0,375.0 L310.8,375.2 L311.6,374.8 L312.4,375.0 L313.2,374.8 L314.0,374.6 L314.8,374.5 L315.6,374.7 L316.4,374.7 L317.2,375.0 L318.0,375.1 L318.8,374.7 L319.6,375.1 L320.4,375.1 L321.2,375.0 L322.0,374.6 L322.8,374.5 L323.6,374.5 L324.4,374.4 L325.2,374.4 L326.0,374.7 L326.8,374.9 L327.6,374.8 L328.4,374.5 L329.2,374.6 L330.0,374.5 L330.0,374.7 L330.8,374.2 L331.6,374.6 L332.4,374.8 L333.2,374.7 L334.0,374.6 L334.8,374.4 L335.6,374.2 L336.4,374.7 L337.2,374.3 L338.0,374.7 L338.8,374.8 L339.6,374.3 L340.4,374.3 L341.2,374.7 L342.0,374.6 L342.8,374.1 L343.6,374.1 L344.4,374.1 L345.2,374.7 L346.0,374.6 L346.8,374.1 L347.6,374.6 L348.4,374.7 L349.2,374.5 L350.0,374.2 L350.8,374.4 L351.6,374.0 L352.4,373.9 L353.1,374.3 L353.2,374.6 L354.0,374.4 L354.8,374.2 L355.6,374.5 L356.4,374.0 L357.2,374.3 L358.0,374.2 L358.8,373.7 L359.6,373.7 L360.4,373.6 L361.2,373.6 L362.0,373.8 L362.8,373.5 L363.6,373.5 L364.4,373.3 L365.0,373.5 L365.2,373.8 L366.0,373.3 L366.8,373.3 L367.6,373.4 L368.4,373.6 L369.2,373.1 L370.0,373.5 L370.8,373.1 L371.6,373.1 L372.4,373.0 L373.2,372.5 L374.0,372.8 L374.8,372.5 L375.6,372.3 L376.2,372.7 L376.4,372.9 L377.2,372.2 L378.0,372.3 L378.8,372.4 L379.6,372.1 L380.4,371.7 L381.2,371.7 L382.0,371.6 L382.8,371.6 L383.6,370.9 L384.4,371.1 L385.2,370.7 L386.0,370.5 L386.8,370.8 L387.6,370.4 L387.7,370.4 L388.4,369.9 L389.2,369.4 L390.0,369.0 L390.8,367.8 L391.6,367.4 L392.4,366.6 L393.2,366.0 L394.0,365.5 L394.6,364.8 L394.8,364.4 L395.6,363.3 L396.4,361.9 L397.2,361.3 L398.0,359.7 L398.8,358.7 L399.5,357.0 L399.6,357.4 L400.4,354.1 L401.2,352.4 L402.0,350.9 L402.8,348.5 L403.2,346.7 L403.6,344.0 L404.4,339.9 L405.2,336.6 L406.0,331.8 L406.6,329.7 L406.8,327.6 L407.6,320.8 L408.4,315.6 L408.8,312.0 L409.2,310.4 L410.0,306.2 L410.8,300.4 L410.9,300.5 L411.6,299.7 L412.4,298.2 L412.6,297.5 L413.2,299.8 L413.3,301.0 L414.0,299.0 L414.7,295.4 L414.8,297.3 L415.6,303.5 L416.4,312.6 L416.5,312.7 L417.2,319.6 L418.0,327.9 L418.2,330.0 L418.8,334.7 L419.6,339.3 L420.4,342.8 L421.2,348.3 L421.7,351.5 L422.0,352.7 L422.8,355.4 L423.6,358.3 L424.4,361.5 L425.2,365.1 L425.9,367.5 L426.0,367.1 L426.8,368.6 L427.6,369.4 L428.4,370.0 L429.2,371.2 L430.0,372.4 L430.8,373.3 L431.0,373.5 L431.6,373.3 L432.4,374.3 L433.2,374.4 L434.0,374.7 L434.8,374.3 L435.6,374.7 L436.2,375.0 L436.2,375.2 Z" fill="#d08b7d" stroke="none" stroke-width="1.4" stroke-linejoin="round"/>
<path d="M310.0,375.2 L310.0,375.0 L310.8,375.2 L311.6,374.8 L312.4,375.0 L313.2,374.8 L314.0,374.6 L314.8,374.5 L315.6,374.7 L316.4,374.7 L317.2,375.0 L318.0,375.1 L318.8,374.7 L319.6,375.1 L320.4,375.1 L321.2,375.0 L322.0,374.6 L322.8,374.5 L323.6,374.5 L324.4,374.4 L325.2,374.4 L326.0,374.7 L326.8,374.9 L327.6,374.8 L328.4,374.5 L329.2,374.6 L330.0,374.5 L330.0,374.7 L330.8,374.2 L331.6,374.6 L332.4,374.8 L333.2,374.7 L334.0,374.6 L334.8,374.4 L335.6,374.2 L336.4,374.7 L337.2,374.3 L338.0,374.7 L338.8,374.8 L339.6,374.3 L340.4,374.3 L341.2,374.7 L342.0,374.6 L342.8,374.1 L343.6,374.1 L344.4,374.1 L345.2,374.7 L346.0,374.6 L346.8,374.1 L347.6,374.6 L348.4,374.7 L349.2,374.5 L350.0,374.2 L350.8,374.4 L351.6,374.0 L352.4,373.9 L353.1,374.3 L353.2,374.6 L354.0,374.4 L354.8,374.2 L355.6,374.5 L356.4,374.0 L357.2,374.3 L358.0,374.2 L358.8,373.7 L359.6,373.7 L360.4,373.6 L361.2,373.6 L362.0,373.8 L362.8,373.5 L363.6,373.5 L364.4,373.3 L365.0,373.5 L365.2,373.8 L366.0,373.3 L366.8,373.3 L367.6,373.4 L368.4,373.6 L369.2,373.1 L370.0,373.5 L370.8,373.1 L371.6,373.1 L372.4,373.0 L373.2,372.5 L374.0,372.8 L374.8,372.5 L375.6,372.3 L376.2,372.7 L376.4,372.9 L377.2,372.2 L378.0,372.3 L378.8,372.4 L379.6,372.1 L380.4,371.7 L381.2,371.7 L382.0,371.6 L382.8,371.6 L383.6,370.9 L384.4,371.1 L385.2,370.7 L386.0,370.5 L386.8,370.8 L387.6,370.4 L387.7,370.4 L388.4,369.9 L389.2,369.4 L390.0,369.0 L390.8,367.8 L391.6,367.4 L392.4,366.6 L393.2,366.0 L394.0,365.5 L394.6,364.8 L394.8,364.4 L395.6,363.3 L396.4,361.9 L397.2,361.3 L398.0,359.7 L398.8,358.7 L399.5,357.0 L399.6,357.4 L400.4,354.1 L401.2,352.4 L402.0,350.9 L402.8,348.5 L403.2,346.7 L403.6,344.0 L404.4,339.9 L405.2,336.6 L406.0,331.8 L406.6,329.7 L406.8,327.6 L407.6,320.8 L408.4,315.6 L408.8,312.0 L409.2,310.4 L410.0,306.2 L410.8,300.4 L410.9,300.5 L411.6,299.7 L412.4,298.2 L412.6,297.5 L413.2,299.8 L413.3,301.0 L414.0,299.0 L414.7,295.4 L414.8,297.3 L415.6,303.5 L416.4,312.6 L416.5,312.7 L417.2,319.6 L418.0,327.9 L418.2,330.0 L418.8,334.7 L419.6,339.3 L420.4,342.8 L421.2,348.3 L421.7,351.5 L422.0,352.7 L422.8,355.4 L423.6,358.3 L424.4,361.5 L425.2,365.1 L425.9,367.5 L426.0,367.1 L426.8,368.6 L427.6,369.4 L428.4,370.0 L429.2,371.2 L430.0,372.4 L430.8,373.3 L431.0,373.5 L431.6,373.3 L432.4,374.3 L433.2,374.4 L434.0,374.7 L434.8,374.3 L435.6,374.7 L436.2,375.0" fill="none" stroke="#b5002e" stroke-width="1.4" stroke-linejoin="round"/>
<path d="M305.2,276.6 H450.9 V375.5 H305.2 Z" fill="none" stroke="#000" stroke-width="1.4"/>
<line x1="300.6" y1="375.5" x2="305.2" y2="375.5" stroke="#111" stroke-width="1.2"/>
<text x="296.5" y="378.90" font-size="10" text-anchor="end" textLength="6.25" lengthAdjust="spacingAndGlyphs" fill="#1a1a1a" style="stroke-width:0.15px">0</text>
<line x1="302.8" y1="373.522" x2="305.2" y2="373.522" stroke="#111" stroke-width="0.9"/>
<line x1="302.8" y1="371.544" x2="305.2" y2="371.544" stroke="#111" stroke-width="0.9"/>
<line x1="302.8" y1="369.566" x2="305.2" y2="369.566" stroke="#111" stroke-width="0.9"/>
<line x1="302.8" y1="367.588" x2="305.2" y2="367.588" stroke="#111" stroke-width="0.9"/>
<line x1="300.6" y1="365.61" x2="305.2" y2="365.61" stroke="#111" stroke-width="1.2"/>
<text x="296.5" y="369.01" font-size="10" text-anchor="end" textLength="12.50" lengthAdjust="spacingAndGlyphs" fill="#1a1a1a" style="stroke-width:0.15px">10</text>
<line x1="302.8" y1="363.632" x2="305.2" y2="363.632" stroke="#111" stroke-width="0.9"/>
<line x1="302.8" y1="361.654" x2="305.2" y2="361.654" stroke="#111" stroke-width="0.9"/>
<line x1="302.8" y1="359.676" x2="305.2" y2="359.676" stroke="#111" stroke-width="0.9"/>
<line x1="302.8" y1="357.698" x2="305.2" y2="357.698" stroke="#111" stroke-width="0.9"/>
<line x1="300.6" y1="355.72" x2="305.2" y2="355.72" stroke="#111" stroke-width="1.2"/>
<text x="296.5" y="359.12" font-size="10" text-anchor="end" textLength="12.50" lengthAdjust="spacingAndGlyphs" fill="#1a1a1a" style="stroke-width:0.15px">20</text>
<line x1="302.8" y1="353.742" x2="305.2" y2="353.742" stroke="#111" stroke-width="0.9"/>
<line x1="302.8" y1="351.764" x2="305.2" y2="351.764" stroke="#111" stroke-width="0.9"/>
<line x1="302.8" y1="349.786" x2="305.2" y2="349.786" stroke="#111" stroke-width="0.9"/>
<line x1="302.8" y1="347.808" x2="305.2" y2="347.808" stroke="#111" stroke-width="0.9"/>
<line x1="300.6" y1="345.83" x2="305.2" y2="345.83" stroke="#111" stroke-width="1.2"/>
<text x="296.5" y="349.23" font-size="10" text-anchor="end" textLength="12.50" lengthAdjust="spacingAndGlyphs" fill="#1a1a1a" style="stroke-width:0.15px">30</text>
<line x1="302.8" y1="343.852" x2="305.2" y2="343.852" stroke="#111" stroke-width="0.9"/>
<line x1="302.8" y1="341.874" x2="305.2" y2="341.874" stroke="#111" stroke-width="0.9"/>
<line x1="302.8" y1="339.896" x2="305.2" y2="339.896" stroke="#111" stroke-width="0.9"/>
<line x1="302.8" y1="337.918" x2="305.2" y2="337.918" stroke="#111" stroke-width="0.9"/>
<line x1="300.6" y1="335.94" x2="305.2" y2="335.94" stroke="#111" stroke-width="1.2"/>
<text x="296.5" y="339.34" font-size="10" text-anchor="end" textLength="12.50" lengthAdjust="spacingAndGlyphs" fill="#1a1a1a" style="stroke-width:0.15px">40</text>
<line x1="302.8" y1="333.962" x2="305.2" y2="333.962" stroke="#111" stroke-width="0.9"/>
<line x1="302.8" y1="331.984" x2="305.2" y2="331.984" stroke="#111" stroke-width="0.9"/>
<line x1="302.8" y1="330.006" x2="305.2" y2="330.006" stroke="#111" stroke-width="0.9"/>
<line x1="302.8" y1="328.028" x2="305.2" y2="328.028" stroke="#111" stroke-width="0.9"/>
<line x1="300.6" y1="326.05" x2="305.2" y2="326.05" stroke="#111" stroke-width="1.2"/>
<text x="296.5" y="329.45" font-size="10" text-anchor="end" textLength="12.50" lengthAdjust="spacingAndGlyphs" fill="#1a1a1a" style="stroke-width:0.15px">50</text>
<line x1="302.8" y1="324.072" x2="305.2" y2="324.072" stroke="#111" stroke-width="0.9"/>
<line x1="302.8" y1="322.094" x2="305.2" y2="322.094" stroke="#111" stroke-width="0.9"/>
<line x1="302.8" y1="320.116" x2="305.2" y2="320.116" stroke="#111" stroke-width="0.9"/>
<line x1="302.8" y1="318.138" x2="305.2" y2="318.138" stroke="#111" stroke-width="0.9"/>
<line x1="300.6" y1="316.16" x2="305.2" y2="316.16" stroke="#111" stroke-width="1.2"/>
<text x="296.5" y="319.56" font-size="10" text-anchor="end" textLength="12.50" lengthAdjust="spacingAndGlyphs" fill="#1a1a1a" style="stroke-width:0.15px">60</text>
<line x1="302.8" y1="314.182" x2="305.2" y2="314.182" stroke="#111" stroke-width="0.9"/>
<line x1="302.8" y1="312.204" x2="305.2" y2="312.204" stroke="#111" stroke-width="0.9"/>
<line x1="302.8" y1="310.226" x2="305.2" y2="310.226" stroke="#111" stroke-width="0.9"/>
<line x1="302.8" y1="308.248" x2="305.2" y2="308.248" stroke="#111" stroke-width="0.9"/>
<line x1="300.6" y1="306.27" x2="305.2" y2="306.27" stroke="#111" stroke-width="1.2"/>
<text x="296.5" y="309.67" font-size="10" text-anchor="end" textLength="12.50" lengthAdjust="spacingAndGlyphs" fill="#1a1a1a" style="stroke-width:0.15px">70</text>
<line x1="302.8" y1="304.29200000000003" x2="305.2" y2="304.29200000000003" stroke="#111" stroke-width="0.9"/>
<line x1="302.8" y1="302.314" x2="305.2" y2="302.314" stroke="#111" stroke-width="0.9"/>
<line x1="302.8" y1="300.336" x2="305.2" y2="300.336" stroke="#111" stroke-width="0.9"/>
<line x1="302.8" y1="298.358" x2="305.2" y2="298.358" stroke="#111" stroke-width="0.9"/>
<line x1="300.6" y1="296.38" x2="305.2" y2="296.38" stroke="#111" stroke-width="1.2"/>
<text x="296.5" y="299.78" font-size="10" text-anchor="end" textLength="12.50" lengthAdjust="spacingAndGlyphs" fill="#1a1a1a" style="stroke-width:0.15px">80</text>
<line x1="302.8" y1="294.402" x2="305.2" y2="294.402" stroke="#111" stroke-width="0.9"/>
<line x1="302.8" y1="292.424" x2="305.2" y2="292.424" stroke="#111" stroke-width="0.9"/>
<line x1="302.8" y1="290.446" x2="305.2" y2="290.446" stroke="#111" stroke-width="0.9"/>
<line x1="302.8" y1="288.468" x2="305.2" y2="288.468" stroke="#111" stroke-width="0.9"/>
<line x1="300.6" y1="286.49" x2="305.2" y2="286.49" stroke="#111" stroke-width="1.2"/>
<text x="296.5" y="289.89" font-size="10" text-anchor="end" textLength="12.50" lengthAdjust="spacingAndGlyphs" fill="#1a1a1a" style="stroke-width:0.15px">90</text>
<line x1="302.8" y1="284.512" x2="305.2" y2="284.512" stroke="#111" stroke-width="0.9"/>
<line x1="302.8" y1="282.534" x2="305.2" y2="282.534" stroke="#111" stroke-width="0.9"/>
<line x1="302.8" y1="280.556" x2="305.2" y2="280.556" stroke="#111" stroke-width="0.9"/>
<line x1="302.8" y1="278.578" x2="305.2" y2="278.578" stroke="#111" stroke-width="0.9"/>
<line x1="300.6" y1="276.6" x2="305.2" y2="276.6" stroke="#111" stroke-width="1.2"/>
<text x="296.5" y="280.00" font-size="10" text-anchor="end" textLength="18.75" lengthAdjust="spacingAndGlyphs" fill="#1a1a1a" style="stroke-width:0.15px">100</text>
<line x1="314.81769784130165" y1="375.5" x2="314.81769784130165" y2="377.7" stroke="#111" stroke-width="0.9"/>
<line x1="321.2626379227396" y1="375.5" x2="321.2626379227396" y2="377.7" stroke="#111" stroke-width="0.9"/>
<line x1="325.8353956826034" y1="375.5" x2="325.8353956826034" y2="377.7" stroke="#111" stroke-width="0.9"/>
<line x1="329.3823021586982" y1="375.5" x2="329.3823021586982" y2="377.7" stroke="#111" stroke-width="0.9"/>
<line x1="332.2803357640413" y1="375.5" x2="332.2803357640413" y2="377.7" stroke="#111" stroke-width="0.9"/>
<line x1="334.73058826452177" y1="375.5" x2="334.73058826452177" y2="377.7" stroke="#111" stroke-width="0.9"/>
<line x1="336.8530935239051" y1="375.5" x2="336.8530935239051" y2="377.7" stroke="#111" stroke-width="0.9"/>
<line x1="338.72527584547925" y1="375.5" x2="338.72527584547925" y2="377.7" stroke="#111" stroke-width="0.9"/>
<line x1="340.4" y1="375.5" x2="340.4" y2="379.5" stroke="#111" stroke-width="1.2"/>
<line x1="351.4176978413017" y1="375.5" x2="351.4176978413017" y2="377.7" stroke="#111" stroke-width="0.9"/>
<line x1="357.8626379227396" y1="375.5" x2="357.8626379227396" y2="377.7" stroke="#111" stroke-width="0.9"/>
<line x1="362.4353956826034" y1="375.5" x2="362.4353956826034" y2="377.7" stroke="#111" stroke-width="0.9"/>
<line x1="365.98230215869825" y1="375.5" x2="365.98230215869825" y2="377.7" stroke="#111" stroke-width="0.9"/>
<line x1="368.8803357640413" y1="375.5" x2="368.8803357640413" y2="377.7" stroke="#111" stroke-width="0.9"/>
<line x1="371.3305882645218" y1="375.5" x2="371.3305882645218" y2="377.7" stroke="#111" stroke-width="0.9"/>
<line x1="373.4530935239051" y1="375.5" x2="373.4530935239051" y2="377.7" stroke="#111" stroke-width="0.9"/>
<line x1="375.32527584547927" y1="375.5" x2="375.32527584547927" y2="377.7" stroke="#111" stroke-width="0.9"/>
<line x1="376.99999999999994" y1="375.5" x2="376.99999999999994" y2="379.5" stroke="#111" stroke-width="1.2"/>
<line x1="388.01769784130164" y1="375.5" x2="388.01769784130164" y2="377.7" stroke="#111" stroke-width="0.9"/>
<line x1="394.4626379227396" y1="375.5" x2="394.4626379227396" y2="377.7" stroke="#111" stroke-width="0.9"/>
<line x1="399.0353956826034" y1="375.5" x2="399.0353956826034" y2="377.7" stroke="#111" stroke-width="0.9"/>
<line x1="402.5823021586982" y1="375.5" x2="402.5823021586982" y2="377.7" stroke="#111" stroke-width="0.9"/>
<line x1="405.4803357640413" y1="375.5" x2="405.4803357640413" y2="377.7" stroke="#111" stroke-width="0.9"/>
<line x1="407.93058826452176" y1="375.5" x2="407.93058826452176" y2="377.7" stroke="#111" stroke-width="0.9"/>
<line x1="410.0530935239051" y1="375.5" x2="410.0530935239051" y2="377.7" stroke="#111" stroke-width="0.9"/>
<line x1="411.92527584547923" y1="375.5" x2="411.92527584547923" y2="377.7" stroke="#111" stroke-width="0.9"/>
<line x1="413.59999999999997" y1="375.5" x2="413.59999999999997" y2="379.5" stroke="#111" stroke-width="1.2"/>
<line x1="424.61769784130166" y1="375.5" x2="424.61769784130166" y2="377.7" stroke="#111" stroke-width="0.9"/>
<line x1="431.0626379227396" y1="375.5" x2="431.0626379227396" y2="377.7" stroke="#111" stroke-width="0.9"/>
<line x1="435.6353956826034" y1="375.5" x2="435.6353956826034" y2="377.7" stroke="#111" stroke-width="0.9"/>
<line x1="439.18230215869823" y1="375.5" x2="439.18230215869823" y2="377.7" stroke="#111" stroke-width="0.9"/>
<line x1="442.0803357640413" y1="375.5" x2="442.0803357640413" y2="377.7" stroke="#111" stroke-width="0.9"/>
<line x1="444.5305882645218" y1="375.5" x2="444.5305882645218" y2="377.7" stroke="#111" stroke-width="0.9"/>
<line x1="446.6530935239051" y1="375.5" x2="446.6530935239051" y2="377.7" stroke="#111" stroke-width="0.9"/>
<line x1="448.52527584547926" y1="375.5" x2="448.52527584547926" y2="377.7" stroke="#111" stroke-width="0.9"/>
<line x1="450.19999999999993" y1="375.5" x2="450.19999999999993" y2="379.5" stroke="#111" stroke-width="1.2"/>
<text x="343.80" y="392.9" font-size="9.9" text-anchor="end" fill="#1a1a1a" style="stroke-width:0.15px">10</text>
<text x="344.40" y="390.2" font-size="8" text-anchor="start" fill="#1a1a1a" style="stroke-width:0.15px">0</text>
<text x="380.40" y="392.9" font-size="9.9" text-anchor="end" fill="#1a1a1a" style="stroke-width:0.15px">10</text>
<text x="381.00" y="390.2" font-size="8" text-anchor="start" fill="#1a1a1a" style="stroke-width:0.15px">1</text>
<text x="417.00" y="392.9" font-size="9.9" text-anchor="end" fill="#1a1a1a" style="stroke-width:0.15px">10</text>
<text x="417.60" y="390.2" font-size="8" text-anchor="start" fill="#1a1a1a" style="stroke-width:0.15px">2</text>
<text x="453.60" y="392.9" font-size="9.9" text-anchor="end" fill="#1a1a1a" style="stroke-width:0.15px">10</text>
<text x="454.20" y="390.2" font-size="8" text-anchor="start" fill="#1a1a1a" style="stroke-width:0.15px">3</text>
<text x="378.5" y="270" font-size="13.3" text-anchor="middle" font-weight="normal" fill="#1a1a1a" >Patient</text>
<text x="377.8" y="411.3" font-size="12" text-anchor="middle" textLength="39" lengthAdjust="spacingAndGlyphs" fill="#1a1a1a" style="stroke-width:0.3px">CD11b-PE</text>
<text transform="translate(269.9,326) rotate(-90)" x="0" y="0" font-size="12" text-anchor="middle" textLength="22.5" lengthAdjust="spacingAndGlyphs" fill="#1a1a1a" style="stroke-width:0.3px">Count</text>
<rect x="454.8" y="277.1" width="8.2" height="8.2" fill="#d69a8c" stroke="#b5002e" stroke-width="1.15" rx="0.8"/>
<text x="467.7" y="284.5" font-size="10" text-anchor="start" font-weight="normal" fill="#1a1a1a" >Buffer</text>
<rect x="454.8" y="292.8" width="8.2" height="8.2" fill="#ffffff" stroke="#2d4b8c" stroke-width="1.15" rx="0.8"/>
<text x="467.7" y="300.2" font-size="10" text-anchor="start" font-weight="normal" fill="#1a1a1a" >PMA</text>
<rect x="454.8" y="308.5" width="8.2" height="8.2" fill="#b9d89e" stroke="#5aaa3c" stroke-width="1.15" rx="0.8"/>
<text x="467.7" y="315.9" font-size="10" text-anchor="start" font-weight="normal" fill="#1a1a1a" >fMLF</text>
<text transform="translate(10.2,432.8) scale(0.9,1)" font-size="16.4" font-weight="bold" fill="#000" style="stroke:#000;stroke-width:0.2px">D</text>
<line x1="56.25" y1="448.75" x2="56.25" y2="609.7" stroke="#111" stroke-width="1.2"/>
<line x1="52" y1="605.7" x2="56.25" y2="605.7" stroke="#111" stroke-width="1.2"/>
<text x="47.5" y="609.4000000000001" font-size="10.5" text-anchor="end" font-weight="normal" fill="#1a1a1a" >0</text>
<line x1="52" y1="586.5" x2="56.25" y2="586.5" stroke="#111" stroke-width="1.2"/>
<text x="47.5" y="590.2" font-size="10.5" text-anchor="end" font-weight="normal" fill="#1a1a1a" >20</text>
<line x1="52" y1="567.3000000000001" x2="56.25" y2="567.3000000000001" stroke="#111" stroke-width="1.2"/>
<text x="47.5" y="571.0000000000001" font-size="10.5" text-anchor="end" font-weight="normal" fill="#1a1a1a" >40</text>
<line x1="52" y1="548.1" x2="56.25" y2="548.1" stroke="#111" stroke-width="1.2"/>
<text x="47.5" y="551.8000000000001" font-size="10.5" text-anchor="end" font-weight="normal" fill="#1a1a1a" >60</text>
<line x1="52" y1="528.9000000000001" x2="56.25" y2="528.9000000000001" stroke="#111" stroke-width="1.2"/>
<text x="47.5" y="532.6000000000001" font-size="10.5" text-anchor="end" font-weight="normal" fill="#1a1a1a" >80</text>
<line x1="52" y1="509.70000000000005" x2="56.25" y2="509.70000000000005" stroke="#111" stroke-width="1.2"/>
<text x="47.5" y="513.4000000000001" font-size="10.5" text-anchor="end" font-weight="normal" fill="#1a1a1a" >100</text>
<line x1="52" y1="490.50000000000006" x2="56.25" y2="490.50000000000006" stroke="#111" stroke-width="1.2"/>
<text x="47.5" y="494.20000000000005" font-size="10.5" text-anchor="end" font-weight="normal" fill="#1a1a1a" >120</text>
<line x1="52" y1="471.30000000000007" x2="56.25" y2="471.30000000000007" stroke="#111" stroke-width="1.2"/>
<text x="47.5" y="475.00000000000006" font-size="10.5" text-anchor="end" font-weight="normal" fill="#1a1a1a" >140</text>
<line x1="52" y1="452.1" x2="56.25" y2="452.1" stroke="#111" stroke-width="1.2"/>
<text x="47.5" y="455.8" font-size="10.5" text-anchor="end" font-weight="normal" fill="#1a1a1a" >160</text>
<line x1="56.25" y1="605.7" x2="255.7" y2="605.7" stroke="#111" stroke-width="1.2"/>
<line x1="121" y1="605.7" x2="121" y2="609.5" stroke="#111" stroke-width="1.2"/>
<line x1="186.4" y1="605.7" x2="186.4" y2="609.5" stroke="#111" stroke-width="1.2"/>
<line x1="251.9" y1="605.7" x2="251.9" y2="609.5" stroke="#111" stroke-width="1.2"/>
<rect x="63" y="557.5" width="26.00" height="48.20" fill="#a1002b"/>
<rect x="89" y="515" width="26.00" height="90.70" fill="#2d4b7c"/>
<rect x="128.5" y="499.5" width="25.90" height="106.20" fill="#a1002b"/>
<rect x="154.4" y="527.6" width="25.70" height="78.10" fill="#2d4b7c"/>
<rect x="193.6" y="496" width="26.00" height="109.70" fill="#a1002b"/>
<rect x="219.6" y="503" width="25.70" height="102.70" fill="#2d4b7c"/>
<line x1="76" y1="552.5" x2="76" y2="562" stroke="#1a1a1a" stroke-width="1.15"/>
<line x1="74.4" y1="552.5" x2="77.6" y2="552.5" stroke="#222" stroke-width="1.2"/>
<line x1="74.4" y1="562" x2="77.6" y2="562" stroke="#222" stroke-width="1.2"/>
<line x1="102" y1="497.8" x2="102" y2="532" stroke="#1a1a1a" stroke-width="1.15"/>
<line x1="100.4" y1="497.8" x2="103.6" y2="497.8" stroke="#222" stroke-width="1.2"/>
<line x1="100.4" y1="532" x2="103.6" y2="532" stroke="#222" stroke-width="1.2"/>
<line x1="141.4" y1="476.2" x2="141.4" y2="523.2" stroke="#1a1a1a" stroke-width="1.15"/>
<line x1="139.8" y1="476.2" x2="143.0" y2="476.2" stroke="#222" stroke-width="1.2"/>
<line x1="139.8" y1="523.2" x2="143.0" y2="523.2" stroke="#222" stroke-width="1.2"/>
<line x1="167.4" y1="516" x2="167.4" y2="538.5" stroke="#1a1a1a" stroke-width="1.15"/>
<line x1="165.8" y1="516" x2="169.0" y2="516" stroke="#222" stroke-width="1.2"/>
<line x1="165.8" y1="538.5" x2="169.0" y2="538.5" stroke="#222" stroke-width="1.2"/>
<line x1="206.6" y1="475.6" x2="206.6" y2="517.1" stroke="#1a1a1a" stroke-width="1.15"/>
<line x1="205.0" y1="475.6" x2="208.2" y2="475.6" stroke="#222" stroke-width="1.2"/>
<line x1="205.0" y1="517.1" x2="208.2" y2="517.1" stroke="#222" stroke-width="1.2"/>
<line x1="232.6" y1="495.8" x2="232.6" y2="510.2" stroke="#1a1a1a" stroke-width="1.15"/>
<line x1="231.0" y1="495.8" x2="234.2" y2="495.8" stroke="#222" stroke-width="1.2"/>
<line x1="231.0" y1="510.2" x2="234.2" y2="510.2" stroke="#222" stroke-width="1.2"/>
<path d="M61.25,492.5 V488.3 H115.3 V492.5" fill="none" stroke="#1a1a1a" stroke-width="1.4"/>
<circle cx="88.1" cy="480.8" r="1.35" fill="#111"/>
<path d="M75.75,472 V467.8 H141.7 V472" fill="none" stroke="#1a1a1a" stroke-width="1.4"/>
<text x="141.2" y="464.6" font-size="10" text-anchor="middle" font-weight="normal" fill="#1a1a1a" >#</text>
<path d="M76.25,457 V452.8 H207.5 V457" fill="none" stroke="#1a1a1a" stroke-width="1.4"/>
<text x="205.2" y="450.2" font-size="10" text-anchor="middle" font-weight="normal" fill="#1a1a1a" >#</text>
<text x="88.5" y="619.5" font-size="10.5" text-anchor="middle" font-weight="normal" fill="#1a1a1a" >Buffer</text>
<text x="153.8" y="619.5" font-size="10.5" text-anchor="middle" font-weight="normal" fill="#1a1a1a" >PMA</text>
<text x="219.6" y="619.5" font-size="10.5" text-anchor="middle" font-weight="normal" fill="#1a1a1a" >fMLF</text>
<text x="154" y="632.5" font-size="10.5" text-anchor="middle" font-weight="normal" fill="#1a1a1a" >Stimulus</text>
<text transform="translate(21.4,527) rotate(-90)" x="0" y="0" font-size="12" text-anchor="middle" textLength="90" lengthAdjust="spacingAndGlyphs" fill="#1a1a1a" style="stroke-width:0.3px">Mean log fluorescence</text>
<text transform="translate(259.6,433.8) scale(0.9,1)" font-size="16.4" font-weight="bold" fill="#000" style="stroke:#000;stroke-width:0.2px">E</text>
<line x1="305.8" y1="448.3" x2="305.8" y2="609" stroke="#111" stroke-width="1.2"/>
<line x1="301.5" y1="605.7" x2="305.8" y2="605.7" stroke="#111" stroke-width="1.2"/>
<text x="297.0" y="609.5" font-size="10.5" text-anchor="end" font-weight="normal" fill="#1a1a1a" >0</text>
<line x1="301.5" y1="580.1" x2="305.8" y2="580.1" stroke="#111" stroke-width="1.2"/>
<text x="297.0" y="583.9" font-size="10.5" text-anchor="end" font-weight="normal" fill="#1a1a1a" >1</text>
<line x1="301.5" y1="554.5" x2="305.8" y2="554.5" stroke="#111" stroke-width="1.2"/>
<text x="297.0" y="558.3" font-size="10.5" text-anchor="end" font-weight="normal" fill="#1a1a1a" >2</text>
<line x1="301.5" y1="528.9000000000001" x2="305.8" y2="528.9000000000001" stroke="#111" stroke-width="1.2"/>
<text x="297.0" y="532.7" font-size="10.5" text-anchor="end" font-weight="normal" fill="#1a1a1a" >3</text>
<line x1="301.5" y1="503.30000000000007" x2="305.8" y2="503.30000000000007" stroke="#111" stroke-width="1.2"/>
<text x="297.0" y="507.1000000000001" font-size="10.5" text-anchor="end" font-weight="normal" fill="#1a1a1a" >4</text>
<line x1="301.5" y1="477.70000000000005" x2="305.8" y2="477.70000000000005" stroke="#111" stroke-width="1.2"/>
<text x="297.0" y="481.50000000000006" font-size="10.5" text-anchor="end" font-weight="normal" fill="#1a1a1a" >5</text>
<line x1="301.5" y1="452.1" x2="305.8" y2="452.1" stroke="#111" stroke-width="1.2"/>
<text x="297.0" y="455.90000000000003" font-size="10.5" text-anchor="end" font-weight="normal" fill="#1a1a1a" >6</text>
<line x1="305.8" y1="605.7" x2="505.7" y2="605.7" stroke="#111" stroke-width="1.2"/>
<line x1="369.9" y1="605.7" x2="369.9" y2="609" stroke="#111" stroke-width="1.2"/>
<line x1="435.2" y1="605.7" x2="435.2" y2="609" stroke="#111" stroke-width="1.2"/>
<line x1="501.7" y1="605.7" x2="501.7" y2="609" stroke="#111" stroke-width="1.2"/>
<rect x="312" y="564.4" width="26.10" height="41.30" fill="#a1002b"/>
<rect x="338.1" y="509.7" width="25.80" height="96.00" fill="#2d4b7c"/>
<rect x="377.1" y="531.3" width="26.10" height="74.40" fill="#a1002b"/>
<rect x="403.2" y="492.7" width="25.50" height="113.00" fill="#2d4b7c"/>
<rect x="441.9" y="532.9" width="25.90" height="72.80" fill="#a1002b"/>
<rect x="467.8" y="524" width="25.80" height="81.70" fill="#2d4b7c"/>
<line x1="324.9" y1="556.3" x2="324.9" y2="572.5" stroke="#1a1a1a" stroke-width="1.15"/>
<line x1="323.29999999999995" y1="556.3" x2="326.5" y2="556.3" stroke="#222" stroke-width="1.2"/>
<line x1="323.29999999999995" y1="572.5" x2="326.5" y2="572.5" stroke="#222" stroke-width="1.2"/>
<line x1="351.5" y1="506.7" x2="351.5" y2="512.4" stroke="#1a1a1a" stroke-width="1.15"/>
<line x1="349.9" y1="506.7" x2="353.1" y2="506.7" stroke="#222" stroke-width="1.2"/>
<line x1="349.9" y1="512.4" x2="353.1" y2="512.4" stroke="#222" stroke-width="1.2"/>
<line x1="390.2" y1="519" x2="390.2" y2="544.1" stroke="#1a1a1a" stroke-width="1.15"/>
<line x1="388.59999999999997" y1="519" x2="391.8" y2="519" stroke="#222" stroke-width="1.2"/>
<line x1="388.59999999999997" y1="544.1" x2="391.8" y2="544.1" stroke="#222" stroke-width="1.2"/>
<line x1="415.8" y1="481.2" x2="415.8" y2="503.5" stroke="#1a1a1a" stroke-width="1.15"/>
<line x1="414.2" y1="481.2" x2="417.40000000000003" y2="481.2" stroke="#222" stroke-width="1.2"/>
<line x1="414.2" y1="503.5" x2="417.40000000000003" y2="503.5" stroke="#222" stroke-width="1.2"/>
<line x1="454.9" y1="518.3" x2="454.9" y2="546.2" stroke="#1a1a1a" stroke-width="1.15"/>
<line x1="453.29999999999995" y1="518.3" x2="456.5" y2="518.3" stroke="#222" stroke-width="1.2"/>
<line x1="453.29999999999995" y1="546.2" x2="456.5" y2="546.2" stroke="#222" stroke-width="1.2"/>
<line x1="481" y1="512.9" x2="481" y2="534.8" stroke="#1a1a1a" stroke-width="1.15"/>
<line x1="479.4" y1="512.9" x2="482.6" y2="512.9" stroke="#222" stroke-width="1.2"/>
<line x1="479.4" y1="534.8" x2="482.6" y2="534.8" stroke="#222" stroke-width="1.2"/>
<path d="M312.5,501.8 V498.1 H364.5 V501.8" fill="none" stroke="#1a1a1a" stroke-width="1.4"/>
<circle cx="337.5" cy="490.6" r="1.35" fill="#111"/>
<path d="M325.1,477.1 V473 H390.9 V477.1" fill="none" stroke="#1a1a1a" stroke-width="1.4"/>
<text x="388.4" y="469" font-size="10" text-anchor="middle" font-weight="normal" fill="#1a1a1a" >#</text>
<path d="M323.8,458.3 V454.4 H454.6 V458.3" fill="none" stroke="#1a1a1a" stroke-width="1.4"/>
<text x="452.2" y="451.5" font-size="10" text-anchor="middle" font-weight="normal" fill="#1a1a1a" >#</text>
<text x="338" y="619.1" font-size="10.5" text-anchor="middle" font-weight="normal" fill="#1a1a1a" >Buffer</text>
<text x="402.9" y="619.7" font-size="10.5" text-anchor="middle" font-weight="normal" fill="#1a1a1a" >PMA</text>
<text x="468.3" y="619.7" font-size="10.5" text-anchor="middle" font-weight="normal" fill="#1a1a1a" >fMLF</text>
<text x="402.9" y="632.3" font-size="10.5" text-anchor="middle" font-weight="normal" fill="#1a1a1a" >Stimulus</text>
<text transform="translate(283.5,527) rotate(-90)" x="0" y="0" font-size="12" text-anchor="middle" textLength="90" lengthAdjust="spacingAndGlyphs" fill="#1a1a1a" style="stroke-width:0.3px">Mean log fluorescence</text>
</svg>
</body></html>
